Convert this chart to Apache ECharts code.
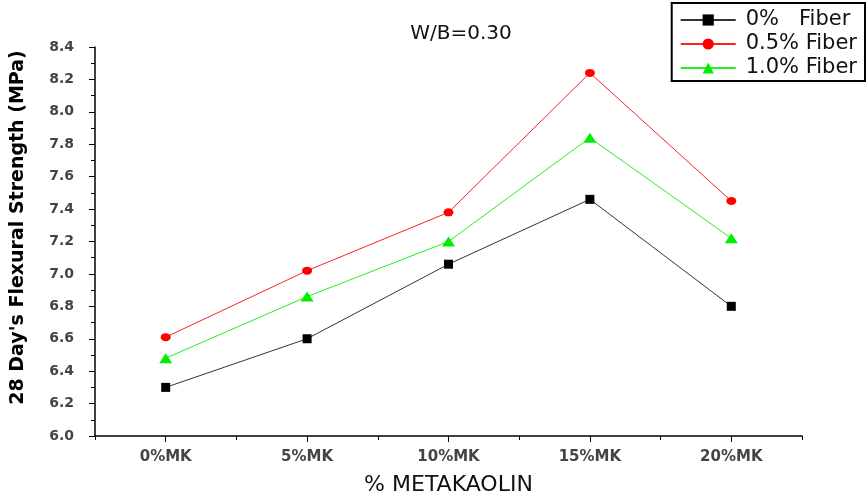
<!DOCTYPE html>
<html><head><meta charset="utf-8">
<script src="https://cdn.jsdelivr.net/npm/echarts@6/dist/echarts.min.js"></script>
<style>html,body{margin:0;padding:0;background:#fff}#c{width:867px;height:501px}</style>
</head><body><div id="c"></div>
<script>
var categories = ['0%MK','5%MK','10%MK','15%MK','20%MK'];
var fiber0 = [6.30, 6.60, 7.06, 7.46, 6.80];
var fiber05 = [6.61, 7.02, 7.38, 8.24, 7.45];
var fiber10 = [6.48, 6.86, 7.20, 7.84, 7.22];
var seriesNames = ['0%   Fiber', '0.5% Fiber', '1.0% Fiber'];

var chart = echarts.init(document.getElementById('c'));
var font = 'DejaVu Sans, Verdana, sans-serif';
chart.setOption({
  animation: false,
  title: {text: 'W/B=0.30', left: 456, top: 19, textAlign: 'center',
    textStyle: {fontFamily: font, fontSize: 20, fontWeight: 'normal', color: '#111'}},
  legend: {orient: 'vertical', right: 2, top: 3, borderColor: '#000', borderWidth: 2,
    padding: [6, 8, 2, 8], itemGap: 2, itemWidth: 55, itemHeight: 14,
    textStyle: {fontFamily: font, fontSize: 21, lineHeight: 22, color: '#111', padding: [0, 0, 0, 5]}},
  grid: {left: 95, right: 65, top: 47, bottom: 63},
  xAxis: [{type: 'category', data: categories, boundaryGap: true, position: 'bottom',
    name: '% METAKAOLIN', nameLocation: 'middle', nameGap: 38,
    nameTextStyle: {fontFamily: font, fontSize: 22, color: '#111'},
    axisLine: {lineStyle: {color: '#000', width: 1.5}},
    axisTick: {show: true, alignWithLabel: true, length: 6, lineStyle: {color: '#000'}},
    axisLabel: {fontFamily: font, fontSize: 15, fontWeight: 'bold', color: '#444', margin: 14}},
   {type: 'category', data: categories, boundaryGap: true, position: 'bottom',
    axisLine: {show: false},
    axisTick: {show: true, alignWithLabel: false, length: 4, lineStyle: {color: '#000'}},
    axisLabel: {show: false}}],
  yAxis: {type: 'value', min: 6.0, max: 8.4, interval: 0.2,
    name: "28 Day's Flexural Strength (MPa)", nameLocation: 'middle', nameGap: 67,
    nameTextStyle: {fontFamily: font, fontSize: 19, fontWeight: 'bold', color: '#000', padding: [0, 0, 0, 28]},
    axisLine: {show: true, lineStyle: {color: '#000', width: 1.5}},
    axisTick: {show: true, length: 6, lineStyle: {color: '#000'}},
    minorTick: {show: true, splitNumber: 2, length: 4, lineStyle: {color: '#000'}},
    splitLine: {show: false},
    axisLabel: {fontFamily: font, fontSize: 14, fontWeight: 'bold', color: '#444', margin: 21,
      formatter: function(v){return v.toFixed(1);}}},
  series: [
    {name: seriesNames[0], type: 'line', data: fiber0, symbol: 'rect', symbolSize: 9,
      itemStyle: {color: '#000'}, lineStyle: {color: '#333', width: 1}},
    {name: seriesNames[1], type: 'line', data: fiber05, symbol: 'circle', symbolSize: [10, 8],
      itemStyle: {color: '#ff0000'}, lineStyle: {color: '#ff2020', width: 1}},
    {name: seriesNames[2], type: 'line', data: fiber10, symbol: 'triangle', symbolSize: [13, 10],
      itemStyle: {color: '#00ee00'}, lineStyle: {color: '#22ee22', width: 1}}
  ]
});
</script></body></html>
